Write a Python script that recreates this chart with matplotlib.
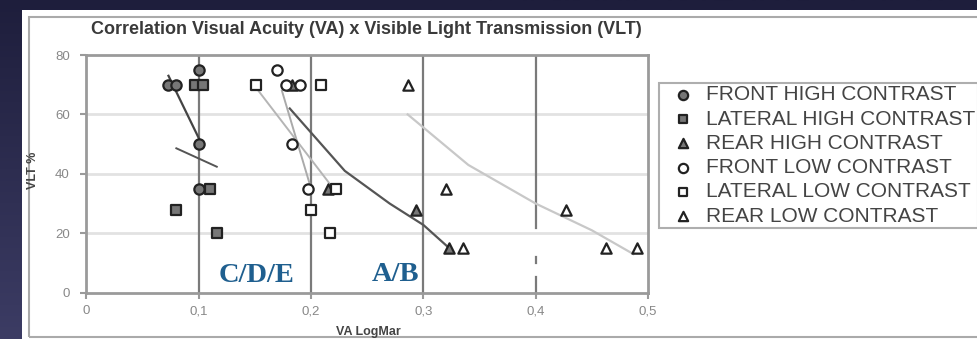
import matplotlib
matplotlib.use("Agg")
import matplotlib.pyplot as plt
import numpy as np
from matplotlib.patches import Rectangle

plt.rcParams['font.family'] = ['Liberation Sans', 'DejaVu Sans']

# Data (VA LogMar, VLT %)
front_hc_x = [0.073, 0.080, 0.100, 0.100, 0.100]
front_hc_y = [70, 70, 75, 50, 35]
lateral_hc_x = [0.080, 0.097, 0.104, 0.110, 0.116]
lateral_hc_y = [28, 70, 70, 35, 20]
rear_hc_x = [0.183, 0.215, 0.293, 0.323]
rear_hc_y = [70, 35, 28, 15]
front_lc_x = [0.170, 0.178, 0.190, 0.183, 0.197]
front_lc_y = [75, 70, 70, 50, 35]
lateral_lc_x = [0.151, 0.209, 0.200, 0.222, 0.217]
lateral_lc_y = [70, 70, 28, 35, 20]
rear_lc_x = [0.286, 0.320, 0.335, 0.427, 0.463, 0.490]
rear_lc_y = [70, 35, 15, 28, 15, 15]

# trend lines as drawn
front_hc_trend_x = [0.073, 0.100]
front_hc_trend_y = [73, 52]
lateral_hc_trend_x = [0.080, 0.116]
lateral_hc_trend_y = [48.6, 42.4]
rear_hc_trend_x = [0.181, 0.230, 0.270, 0.300, 0.323]
rear_hc_trend_y = [62, 41, 30, 22.8, 15]
front_lc_trend_x = [0.174, 0.200]
front_lc_trend_y = [68, 35]
lateral_lc_trend_x = [0.153, 0.222]
lateral_lc_trend_y = [68, 34]
rear_lc_trend_x = [0.286, 0.340, 0.400, 0.450, 0.487]
rear_lc_trend_y = [60, 43, 30, 21, 13]

labels = ["FRONT HIGH CONTRAST", "LATERAL HIGH CONTRAST", "REAR HIGH CONTRAST",
          "FRONT LOW CONTRAST", "LATERAL LOW CONTRAST", "REAR LOW CONTRAST"]

fig = plt.figure(figsize=(9.78, 3.39), dpi=100)

# dark slide background
bg = fig.add_axes([0, 0, 1, 1], zorder=-10)
grad = np.linspace(0, 1, 256).reshape(-1, 1)
bg.imshow(grad, aspect='auto', cmap=matplotlib.colors.LinearSegmentedColormap.from_list(
    'bg', ['#1e1e3c', '#3c3c64']), extent=[0, 1, 0, 1], origin='upper')
bg.axis('off')

# white chart panel and its border
fig.patches.append(Rectangle((22 / 978, 0), 1, 1 - 10 / 339, transform=fig.transFigure,
                             facecolor='white', edgecolor='none', zorder=-5))
fig.patches.append(Rectangle((29 / 978, 2 / 339), 1, 1 - 19 / 339, transform=fig.transFigure,
                             facecolor='none', edgecolor='#aaaaaa', lw=1.5, zorder=-4))

ax = fig.add_axes([86.5 / 978, 1 - 292.7 / 339, (648 - 86.5) / 978, (292.7 - 55) / 339])
ax.set_xlim(0, 0.5)
ax.set_ylim(0, 80)

# grid
for y in [20, 40, 60]:
    ax.axhline(y, color='#e2e2e2', lw=2, zorder=0)
for x in [0.1, 0.2, 0.3]:
    ax.axvline(x, color='#7a7a7a', lw=1.6, zorder=0)
for y0, y1 in [(0, 5.3), (10, 12), (21.8, 80)]:
    ax.plot([0.4, 0.4], [y0, y1], color='#7a7a7a', lw=1.6, zorder=0)

for s in ax.spines.values():
    s.set_color('#9a9a9a')
    s.set_linewidth(2)

# trend lines
ax.plot(front_hc_trend_x, front_hc_trend_y, color='#444444', lw=1.6, zorder=2)
ax.plot(lateral_hc_trend_x, lateral_hc_trend_y, color='#555555', lw=1.4, zorder=2)
ax.plot(rear_hc_trend_x, rear_hc_trend_y, color='#555555', lw=1.6, zorder=2)
ax.plot(front_lc_trend_x, front_lc_trend_y, color='#aaaaaa', lw=1.4, zorder=2)
ax.plot(lateral_lc_trend_x, lateral_lc_trend_y, color='#b5b5b5', lw=1.4, zorder=2)
ax.plot(rear_lc_trend_x, rear_lc_trend_y, color='#c8c8c8', lw=1.6, zorder=2)

hc = dict(facecolor='#777777', edgecolor='#222222', linewidths=1.6, zorder=3)
lc = dict(facecolor='white', edgecolor='#222222', linewidths=1.6, zorder=3)
ax.scatter(front_hc_x, front_hc_y, marker='o', s=55, label=labels[0], **hc)
ax.scatter(lateral_hc_x, lateral_hc_y, marker='s', s=50, label=labels[1], **hc)
ax.scatter(rear_hc_x, rear_hc_y, marker='^', s=55, label=labels[2], **hc)
ax.scatter(front_lc_x, front_lc_y, marker='o', s=55, label=labels[3], **lc)
ax.scatter(lateral_lc_x, lateral_lc_y, marker='s', s=50, label=labels[4], **lc)
ax.scatter(rear_lc_x, rear_lc_y, marker='^', s=55, label=labels[5], **lc)

ax.set_xticks([0, 0.1, 0.2, 0.3, 0.4, 0.5])
ax.set_xticklabels(['0', '0,1', '0,2', '0,3', '0,4', '0,5'])
ax.set_yticks([0, 20, 40, 60, 80])
ax.tick_params(colors='#9a9a9a', labelcolor='#888888', labelsize=9.5, length=4, width=1.5)
ax.tick_params(axis='y', pad=8)
ax.tick_params(axis='x', pad=5)

ax.text(0.1517, 3.6, 'C/D/E', color='#1f5f8f', fontsize=20.5, fontweight='bold',
        family='Liberation Serif', ha='center', va='baseline')
ax.text(0.2754, 3.9, 'A/B', color='#1f5f8f', fontsize=20.5, fontweight='bold',
        family='Liberation Serif', ha='center', va='baseline')

fig.text(366 / 978, 1 - 30 / 339, 'Correlation Visual Acuity (VA) x Visible Light Transmission (VLT)',
         ha='center', va='center', fontsize=13, fontweight='bold', color='#3a3a3a')
fig.text(33 / 978, 1 - 170 / 339, 'VLT %', rotation=90, ha='center', va='center',
         fontsize=9, fontweight='bold', color='#444444')
fig.text(368 / 978, 1 - 332 / 339, 'VA LogMar', ha='center', va='center',
         fontsize=9, fontweight='bold', color='#444444')

leg = fig.legend(loc='upper left', bbox_to_anchor=(659 / 978, 1 - 83 / 339),
                 fontsize=15, frameon=True, fancybox=False, edgecolor='#9a9a9a',
                 handletextpad=0.05, labelspacing=0.25, borderpad=0.12, handlelength=2.1,
                 scatterpoints=1, markerscale=0.9, borderaxespad=0)
leg.get_frame().set_linewidth(1.5)
for t in leg.get_texts():
    t.set_color('#444444')

fig.savefig('out.png', dpi=100)
